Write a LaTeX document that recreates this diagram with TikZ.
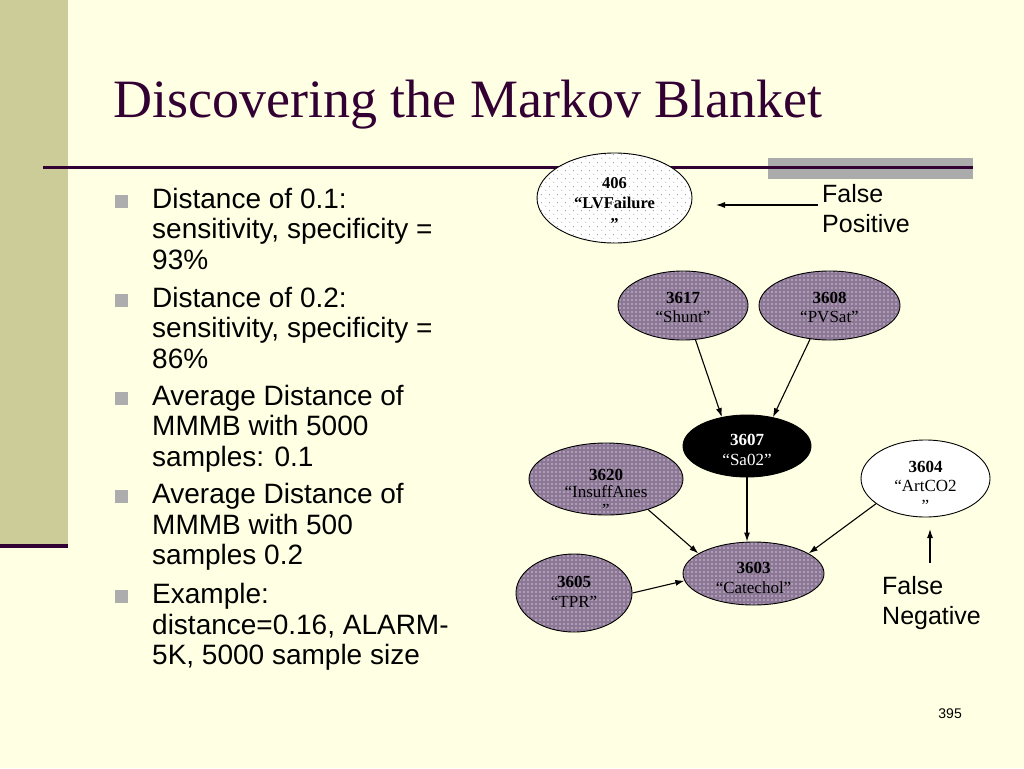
\documentclass[tikz,border=0pt]{standalone}
\usepackage{fontspec}
\setmainfont{Liberation Serif}
\newfontfamily\arialf{Liberation Sans}
\usetikzlibrary{patterns,arrows.meta,shapes.geometric}
\pgfdeclarepatternformonly{pdots}{\pgfqpoint{-1pt}{-1pt}}{\pgfqpoint{1pt}{1pt}}{\pgfqpoint{4pt}{4pt}}{\pgfpathcircle{\pgfqpoint{0pt}{0pt}}{0.8pt}\pgfusepath{fill}}
\pgfdeclarepatternformonly{sdots}{\pgfqpoint{0pt}{0pt}}{\pgfqpoint{8pt}{8pt}}{\pgfqpoint{8pt}{8pt}}{\pgfpathcircle{\pgfqpoint{2pt}{2pt}}{0.65pt}\pgfpathcircle{\pgfqpoint{6pt}{6pt}}{0.65pt}\pgfusepath{fill}}
\definecolor{bg}{HTML}{FFFFE3}
\definecolor{strip}{HTML}{CCCC99}
\definecolor{ttl}{HTML}{330033}
\definecolor{bargray}{HTML}{ABABAB}
\definecolor{bul}{HTML}{ADADAD}
\definecolor{purp}{HTML}{8C7896}
\definecolor{purpl}{HTML}{D2C6D4}
\newcommand{\nlab}[2]{\raisebox{#1}[0pt][0pt]{\begin{tabular}[t]{@{}c@{}}#2\end{tabular}}}
\newcommand{\blines}[1]{\begin{tabular}[t]{@{}l@{}}#1\end{tabular}}
\begin{document}
\begin{tikzpicture}[x=1pt,y=-1pt,
  ell/.style={ellipse, draw=black, line width=0.9pt, inner sep=0pt},
  pnode/.style={ell, preaction={fill=purp}, preaction={pattern=pdots, pattern color=purpl}},
  two/.style={font=\fontsize{17}{19.5}\selectfont},
  arr/.style={-{Latex[length=9pt,width=6pt]}, line width=1.1pt, black},
  lbl/.style={inner sep=0pt, font=\arialf\fontsize{25}{30}\selectfont},
  btext/.style={inner sep=0pt, font=\arialf\fontsize{28}{30.6}\selectfont},
  bsq/.style={rectangle, fill=bul, minimum size=13pt, inner sep=0pt}
]
\useasboundingbox (0,0) rectangle (1024,768);
\fill[bg] (0,0) rectangle (1024,768);
\fill[strip] (0,0) rectangle (68,544);
\fill[ttl] (0,544) rectangle (68,548);
\fill[bargray] (768,158) rectangle (973,179);
\draw[ttl, line width=3pt] (43,167) -- (973,167);

\node[anchor=base west, font=\fontsize{54}{60}\selectfont, text=ttl, inner sep=0pt] (title) at (113,117) {Discovering the Markov Blanket};

% bullets
\node[bsq] (s1) at (121.5,201) {};
\node[btext, anchor=base west] (i1) at (152,208) {\blines{Distance of 0.1:\\sensitivity, specificity =\\93\%}};
\node[bsq] (s2) at (121.5,300) {};
\node[btext, anchor=base west] (i2) at (152,307) {\blines{Distance of 0.2:\\sensitivity, specificity =\\86\%}};
\node[bsq] (s3) at (121.5,398) {};
\node[btext, anchor=base west] (i3) at (152,405) {\blines{Average Distance of\\MMMB with 5000\\samples: 0.1}};
\node[bsq] (s4) at (121.5,496.5) {};
\node[btext, anchor=base west] (i4) at (152,503.5) {\blines{Average Distance of\\MMMB with 500\\samples 0.2}};
\node[bsq] (s5) at (121.5,596.5) {};
\node[btext, anchor=base west] (i5) at (152,603.5) {\blines{Example:\\distance=0.16, ALARM-\\5K, 5000 sample size}};

% graph nodes
\node[ell, minimum width=155pt, minimum height=90pt, preaction={fill=white}, preaction={pattern=sdots, pattern color=gray!80}, font=\fontsize{16.5}{20.5}\selectfont] (lv) at (614.5,198) {\nlab{10pt}{\textbf{406}\\\textbf{“LVFailure}\\\textbf{”}}};
\node[pnode, two, minimum width=130pt, minimum height=69pt] (shunt) at (683,305.5) {\nlab{2.5pt}{\textbf{3617}\\“Shunt”}};
\node[pnode, two, minimum width=141pt, minimum height=69pt] (pvsat) at (829.5,305.5) {\nlab{2.5pt}{\textbf{3608}\\“PVSat”}};
\node[ell, fill=black, text=white, font=\fontsize{17}{20}\selectfont, minimum width=128pt, minimum height=62pt] (sa) at (747,446) {\nlab{1pt}{\textbf{3607}\\“Sa02”}};
\node[pnode, font=\fontsize{17}{17.5}\selectfont, minimum width=154pt, minimum height=72pt] (ins) at (606,479) {\nlab{-1pt}{\textbf{3620}\\“InsuffAnes\\”}};
\node[ell, fill=white, two, minimum width=129pt, minimum height=77pt] (art) at (925.5,478.5) {\nlab{6.5pt}{\textbf{3604}\\“ArtCO2\\”}};
\node[pnode, font=\fontsize{17}{20}\selectfont, minimum width=141pt, minimum height=63pt] (cat) at (753.5,573.5) {\nlab{0.5pt}{\textbf{3603}\\“Catechol”}};
\node[pnode, font=\fontsize{17}{20}\selectfont, minimum width=116pt, minimum height=78pt] (tpr) at (574,593) {\nlab{6pt}{\textbf{3605}\\“TPR”}};

% edges
\draw[arr] (shunt.-70) -- (sa.131);
\draw[arr] (pvsat.240) -- (sa.48);
\draw[arr] (sa.south) -- (sa.south |- cat.north);
\draw[arr] (ins.-36) -- (cat.160);
\draw[arr] (art.207) -- (cat.20);
\draw[arr] (tpr.east) -- (cat.186);

% annotations
\node[lbl, anchor=base west] (fp) at (822,202) {\blines{False\\Positive}};
\coordinate (fpTip) at (716,205);
\draw[arr, shorten <=4pt] (fp.west |- fpTip) -- (fpTip);
\node[lbl, anchor=base west] (fn) at (882,594) {\blines{False\\Negative}};
\coordinate (fnTip) at (930,529);
\draw[arr, shorten <=10pt] (fnTip |- fn.north) -- (fnTip);

\node[anchor=base east, font=\arialf\fontsize{14}{16}\selectfont, inner sep=0pt] (pg) at (962,718) {395};
\end{tikzpicture}
\end{document}
